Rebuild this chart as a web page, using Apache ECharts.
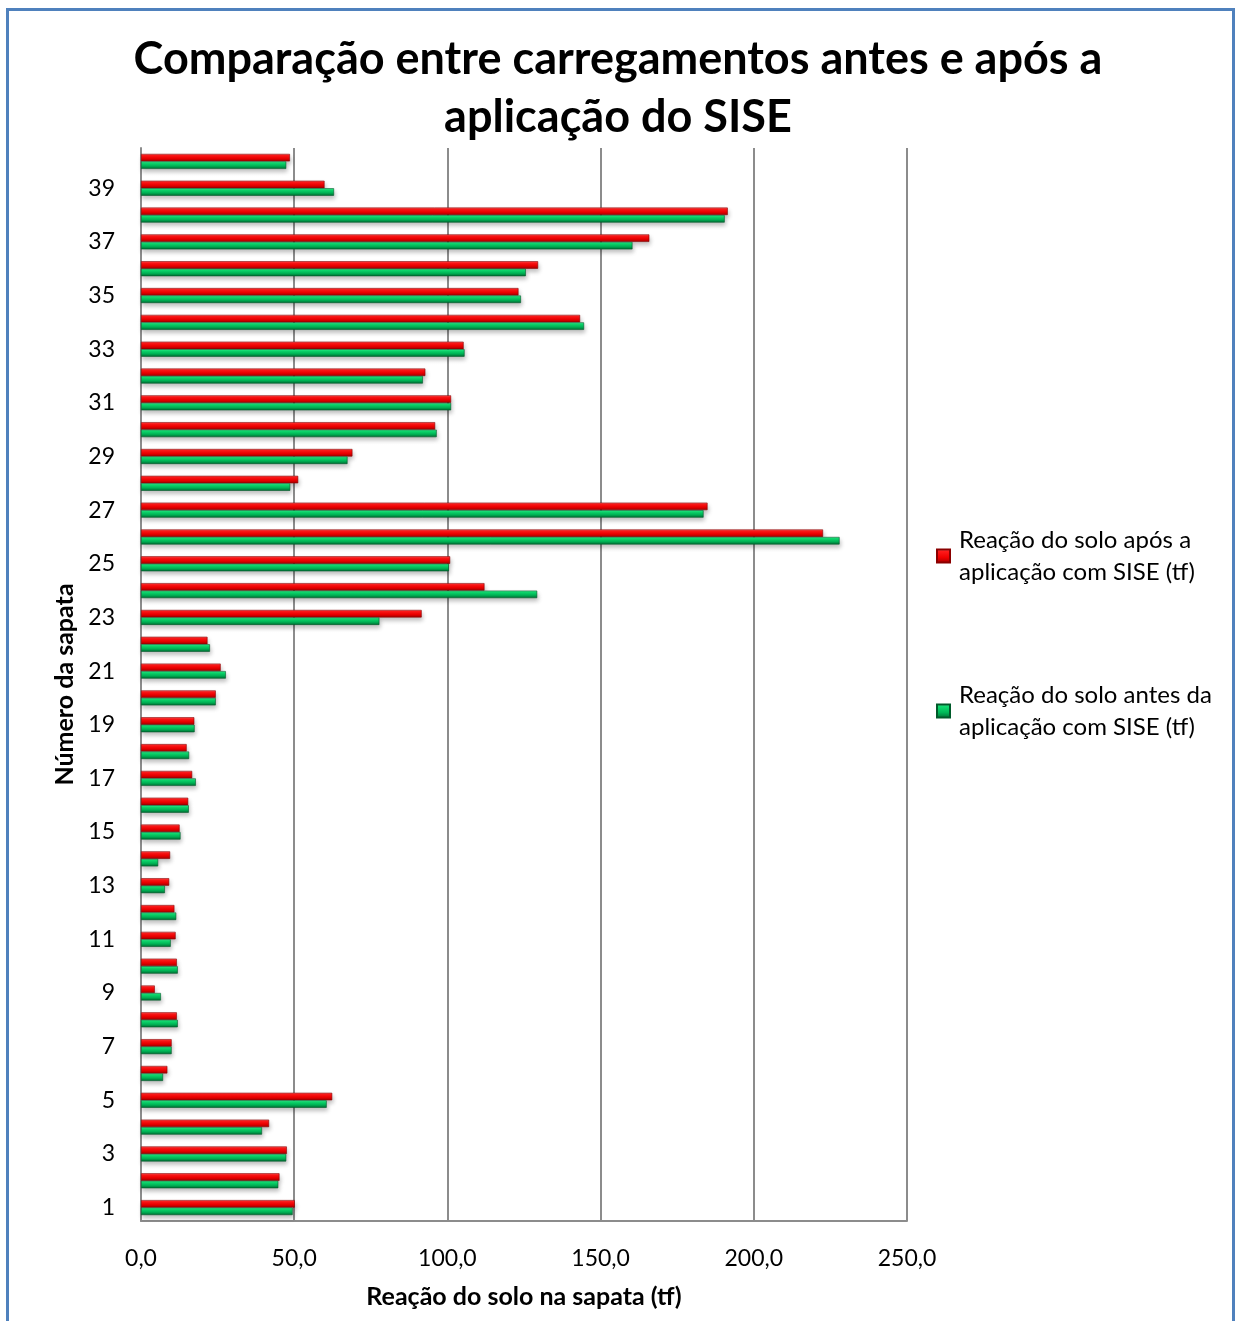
<!DOCTYPE html>
<html>
<head>
<meta charset="utf-8">
<script src="https://cdn.jsdelivr.net/npm/echarts@6/dist/echarts.min.js"></script>
<style>
html,body{margin:0;padding:0;background:#fff;}
#chart{width:1236px;height:1321px;}
</style>
</head>
<body>
<div id="chart"></div>
<script>
const categories = ['1','2','3','4','5','6','7','8','9','10','11','12','13','14','15','16','17','18','19','20',
  '21','22','23','24','25','26','27','28','29','30','31','32','33','34','35','36','37','38','39','40'];
const aposSISE = [50.2,45.2,47.6,41.8,62.4,8.6,10.0,11.7,4.5,11.7,11.3,10.9,9.2,9.5,12.6,15.4,16.7,14.9,17.4,24.4,
  26.0,21.7,91.6,112.1,100.9,222.6,184.9,51.3,69.0,96.0,101.2,92.8,105.3,143.3,123.2,129.6,165.9,191.5,59.9,48.6];
const antesSISE = [49.5,44.8,47.4,39.5,60.6,7.2,10.0,12.0,6.5,12.0,9.7,11.5,7.8,5.6,12.9,15.6,17.9,15.7,17.5,24.4,
  27.7,22.5,77.8,129.3,100.5,228.0,183.6,48.7,67.4,96.5,101.2,92.0,105.6,144.6,124.0,125.6,160.4,190.5,63.0,47.4];
const seriesNames = ['Reação do solo após a aplicação com SISE (tf)', 'Reação do solo antes da aplicação com SISE (tf)'];
const legendLines = {
  'Reação do solo após a aplicação com SISE (tf)': 'Reação do solo após a\naplicação com SISE (tf)',
  'Reação do solo antes da aplicação com SISE (tf)': 'Reação do solo antes da\naplicação com SISE (tf)'
};
const titleText = 'Comparação entre carregamentos antes e após a\naplicação do SISE';
const xAxisName = 'Reação do solo na sapata (tf)';
const yAxisName = 'Número da sapata';

const FONT = 'Lato';
const redGrad = new echarts.graphic.LinearGradient(0,0,0,1,[
  {offset:0,color:'#ff7878'},{offset:0.2,color:'#ff1a1a'},{offset:0.6,color:'#f00000'},{offset:1,color:'#a00000'}]);
const greenGrad = new echarts.graphic.LinearGradient(0,0,0,1,[
  {offset:0,color:'#60f0a4'},{offset:0.2,color:'#10dc70'},{offset:0.6,color:'#00b858'},{offset:1,color:'#006a32'}]);

const chart = echarts.init(document.getElementById('chart'), null, {renderer:'canvas'});
chart.setOption({
  backgroundColor:'#ffffff',
  animation:false,
  title:{
    text:titleText, left:'center', top:25,
    textStyle:{fontFamily:FONT, fontWeight:'bold', fontSize:45, lineHeight:58, color:'#000'}
  },
  legend:{
    orient:'vertical', left:936, top:508, itemGap:59, itemWidth:13, itemHeight:13, padding:0,
    icon:'rect',
    data:seriesNames,
    formatter:n=>legendLines[n],
    textStyle:{fontFamily:FONT, fontSize:24, lineHeight:32, color:'#000', padding:[32,0,0,4]}
  },
  grid:{left:141, right:329, top:148, bottom:100, containLabel:false},
  xAxis:{
    type:'value', min:0, max:250, interval:50,
    name:xAxisName, nameLocation:'middle', nameGap:63,
    nameTextStyle:{fontFamily:FONT, fontWeight:'bold', fontSize:25, color:'#000'},
    axisLine:{show:true, lineStyle:{color:'#8c8c8c', width:2}},
    axisTick:{show:false},
    axisLabel:{margin:26, fontFamily:FONT, fontSize:23, color:'#000', formatter:v=>v.toFixed(1).replace('.',',')},
    splitLine:{show:true, lineStyle:{color:'#8c8c8c', width:2}}
  },
  yAxis:{
    type:'category', data:categories,
    name:yAxisName, nameLocation:'middle', nameGap:64, nameRotate:90,
    nameTextStyle:{fontFamily:FONT, fontWeight:'bold', fontSize:25, color:'#000'},
    axisLine:{show:true, lineStyle:{color:'#8c8c8c', width:2}},
    axisTick:{show:false},
    axisLabel:{interval:1, margin:26, fontFamily:FONT, fontSize:23, color:'#000'},
    splitLine:{show:false}
  },
  series:[
    {name:seriesNames[0], type:'bar', data:aposSISE, barWidth:7.5, barGap:'0%',
      itemStyle:{color:redGrad, borderColor:'#8a0000', borderWidth:0.6, shadowColor:'rgba(0,0,0,0.25)', shadowBlur:4, shadowOffsetY:3, shadowOffsetX:1}},
    {name:seriesNames[1], type:'bar', data:antesSISE, barWidth:7.5, barGap:'0%',
      itemStyle:{color:greenGrad, borderColor:'#005a2a', borderWidth:0.6, shadowColor:'rgba(0,0,0,0.25)', shadowBlur:4, shadowOffsetY:3, shadowOffsetX:1}}
  ],
  graphic:[
    {type:'rect', left:5, top:7, shape:{width:1226, height:1318}, style:{fill:'none', stroke:'#4f81bd', lineWidth:3}, silent:true}
  ]
});
</script>
</body>
</html>
